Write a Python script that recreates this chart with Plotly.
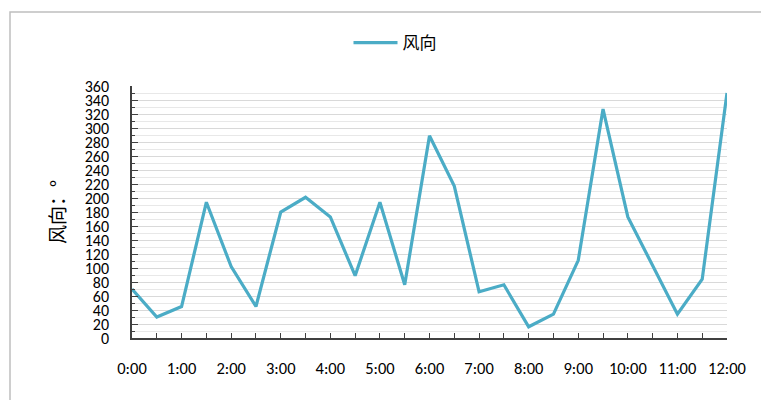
import plotly.graph_objects as go

times = ["0:00","0:30","1:00","1:30","2:00","2:30","3:00","3:30","4:00","4:30",
         "5:00","5:30","6:00","6:30","7:00","7:30","8:00","8:30","9:00","9:30",
         "10:00","10:30","11:00","11:30","12:00"]
wind_dir = [70, 30, 45, 194, 102, 45, 180, 201, 173, 89, 194, 76, 289, 217, 66,
            76, 16, 34, 111, 327, 173, 104, 34, 84, 350]
hour_labels = [t if t.endswith(":00") else "" for t in times]
series_name = "风向"
y_title = "风向：°"

W, H = 761, 400
ML, MR, MT, MB = 132, 34, 86, 62

font_main = "Carlito, 'Liberation Sans Narrow', 'Liberation Sans', 'Noto Sans CJK SC', sans-serif"

fig = go.Figure()
fig.add_trace(go.Scatter(
    x=times, y=wind_dir, mode="lines", name=series_name,
    line=dict(color="#4BACC6", width=3.2),
))

pw = W - ML - MR
ph = H - MT - MB
fig.add_shape(type="rect", xref="paper", yref="paper",
              x0=(10 - ML) / pw, x1=(W + 20 - ML) / pw,
              y0=-(H + 20 - MT - ph) / ph, y1=(H - 12 - MB) / ph,
              line=dict(color="#bfbfbf", width=1.5), layer="below")

fig.update_layout(
    width=W, height=H,
    margin=dict(l=ML, r=MR, t=MT, b=MB),
    paper_bgcolor="white", plot_bgcolor="white",
    font=dict(family=font_main, size=15, color="#000000"),
    showlegend=True,
    legend=dict(orientation="h", xref="container", yref="container",
                x=395 / W, y=1 - 43 / H, xanchor="center", yanchor="middle",
                font=dict(family="'Noto Sans CJK SC', sans-serif", size=17),
                itemwidth=44),
    xaxis=dict(type="category", range=[0, len(times) - 1],
               tickmode="array", tickvals=times, ticktext=hour_labels,
               ticks="inside", ticklen=5, tickcolor="#404040",
               showline=True, linecolor="#404040", linewidth=1.5,
               showgrid=False, ticklabelstandoff=14,
               tickfont=dict(size=16.5), tickangle=0),
    yaxis=dict(range=[0, 360], dtick=20, tick0=0,
               ticks="inside", ticklen=6, tickcolor="#404040",
               showline=True, linecolor="#404040", linewidth=1.5,
               showgrid=True, gridcolor="#d9d9d9", gridwidth=1,
               zeroline=False, ticklabelstandoff=18,
               tickfont=dict(size=16),
               minor=dict(dtick=10, ticks="inside", ticklen=3, tickcolor="#404040",
                          showgrid=True, gridcolor="#e8e8e8", gridwidth=1),
               title=dict(text=y_title, standoff=14,
                          font=dict(family="'Noto Sans CJK SC', sans-serif", size=19))),
)

fig.write_html("out.html")
